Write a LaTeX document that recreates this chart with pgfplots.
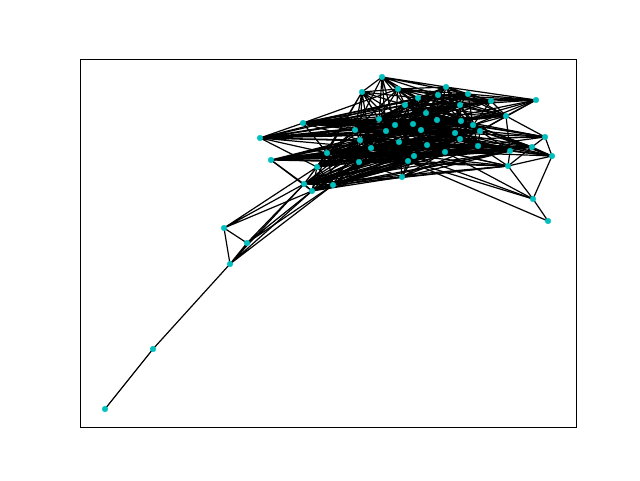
\documentclass[border=0pt]{standalone}
\usepackage{pgfplots}
\pgfplotsset{compat=1.18}
\definecolor{nodec}{rgb}{0,0.75,0.75}
\pgfplotsset{edge/.style={black, line width=1.2pt, line join=round, mark=none}}
\begin{document}
\begin{tikzpicture}
\begin{axis}[at={(0,0)}, anchor=south west, scale only axis,
  width=496pt, height=368pt, xmin=80, xmax=576, ymin=53, ymax=421,
  xtick=\empty, ytick=\empty, axis line style={line width=0.8pt}]
\addplot[edge] coordinates {(105,71)(153,131)};
\addplot[edge] coordinates {(153,131)(230,216)};
\addplot[edge] coordinates {(230,216)(247,237)(230,216)(224,252)(230,216)(304,296)(230,216)(312,289)(230,216)(333,295)};
\addplot[edge] coordinates {(247,237)(224,252)(247,237)(304,296)(247,237)(312,289)(247,237)(333,295)};
\addplot[edge] coordinates {(224,252)(304,296)(224,252)(312,289)(224,252)(317,313)};
\addplot[edge] coordinates {(304,296)(312,289)(304,296)(333,295)(304,296)(317,313)(304,296)(271,320)(304,296)(327,327)(304,296)(359,318)(304,296)(371,332)(304,296)(399,338)(304,296)(414,324)(304,296)(402,303)(304,296)(445,328)(304,296)(478,334)};
\addplot[edge] coordinates {(312,289)(333,295)(312,289)(317,313)(312,289)(271,320)(312,289)(327,327)(312,289)(359,318)(312,289)(360,340)(312,289)(399,338)(312,289)(427,335)(312,289)(408,319)(312,289)(402,303)(312,289)(455,347)(312,289)(510,329)};
\addplot[edge] coordinates {(333,295)(317,313)(333,295)(327,327)(333,295)(359,318)(333,295)(371,332)(333,295)(399,338)(333,295)(414,324)(333,295)(408,319)(333,295)(402,303)(333,295)(445,328)(333,295)(478,334)(333,295)(508,314)};
\addplot[edge] coordinates {(317,313)(327,327)(317,313)(359,318)(317,313)(355,350)(317,313)(360,340)(317,313)(371,332)(317,313)(386,349)(317,313)(399,338)(317,313)(421,350)(317,313)(427,335)(317,313)(460,341)(317,313)(480,349)};
\addplot[edge] coordinates {(271,320)(327,327)(271,320)(371,332)(271,320)(399,338)(271,320)(427,335)(271,320)(414,324)(271,320)(445,328)(271,320)(478,334)(271,320)(510,329)};
\addplot[edge] coordinates {(260,342)(303,357)(260,342)(327,327)(260,342)(355,350)(260,342)(379,361)(260,342)(386,349)(260,342)(395,355)(260,342)(405,375)(260,342)(413,356)(260,342)(437,360)(260,342)(460,375)(260,342)(461,359)(260,342)(473,355)(260,342)(317,313)};
\addplot[edge] coordinates {(303,357)(327,327)(303,357)(355,350)(303,357)(360,340)(303,357)(379,361)(303,357)(395,355)(303,357)(405,375)(303,357)(418,382)(303,357)(426,367)(303,357)(437,360)(303,357)(460,375)(303,357)(473,355)(303,357)(506,364)};
\addplot[edge] coordinates {(327,327)(359,318)(327,327)(355,350)(327,327)(360,340)(327,327)(371,332)(327,327)(386,349)(327,327)(399,338)(327,327)(413,356)(327,327)(427,335)(327,327)(408,319)(327,327)(455,347)(327,327)(460,341)(327,327)(480,349)};
\addplot[edge] coordinates {(359,318)(360,340)(359,318)(371,332)(359,318)(399,338)(359,318)(421,350)(359,318)(427,335)(359,318)(414,324)(359,318)(408,319)(359,318)(402,303)(359,318)(445,328)(359,318)(478,334)(359,318)(510,329)};
\addplot[edge] coordinates {(355,350)(360,340)(355,350)(379,361)(355,350)(386,349)(355,350)(395,355)(355,350)(398,391)(355,350)(405,375)(355,350)(426,367)(355,350)(413,356)(355,350)(437,360)(355,350)(461,359)(355,350)(473,355)};
\addplot[edge] coordinates {(360,340)(371,332)(360,340)(386,349)(360,340)(399,338)(360,340)(413,356)(360,340)(421,350)(360,340)(427,335)(360,340)(455,347)(360,340)(460,341)(360,340)(480,349)};
\addplot[edge] coordinates {(371,332)(386,349)(371,332)(399,338)(371,332)(421,350)(371,332)(427,335)(371,332)(414,324)(371,332)(408,319)(371,332)(445,328)(371,332)(478,334)(371,332)(532,333)};
\addplot[edge] coordinates {(379,361)(386,349)(379,361)(395,355)(379,361)(398,391)(379,361)(405,375)(379,361)(418,382)(379,361)(426,367)(379,361)(437,360)(379,361)(438,385)(379,361)(460,375)(379,361)(461,359)};
\addplot[edge] coordinates {(386,349)(395,355)(386,349)(399,338)(386,349)(413,356)(386,349)(421,350)(386,349)(427,335)(386,349)(437,360)(386,349)(455,347)(386,349)(460,341)(386,349)(473,355)};
\addplot[edge] coordinates {(395,355)(398,391)(395,355)(405,375)(395,355)(418,382)(395,355)(426,367)(395,355)(413,356)(395,355)(437,360)(395,355)(438,385)(395,355)(460,375)(395,355)(461,359)(395,355)(473,355)(395,355)(491,379)};
\addplot[edge] coordinates {(399,338)(421,350)(399,338)(427,335)(399,338)(414,324)(399,338)(408,319)(399,338)(402,303)(399,338)(455,347)(399,338)(460,341)(399,338)(445,328)(399,338)(478,334)};
\addplot[edge] coordinates {(362,388)(382,403)(362,388)(398,391)(362,388)(355,350)(362,388)(360,340)(362,388)(379,361)(362,388)(386,349)(362,388)(395,355)(362,388)(405,375)(362,388)(327,327)(362,388)(317,313)(362,388)(371,332)(362,388)(418,382)(362,388)(413,356)};
\addplot[edge] coordinates {(382,403)(398,391)(382,403)(405,375)(382,403)(418,382)(382,403)(438,385)(382,403)(446,393)(382,403)(468,386)(382,403)(379,361)(382,403)(395,355)(382,403)(355,350)(382,403)(386,349)(382,403)(426,367)};
\addplot[edge] coordinates {(398,391)(405,375)(398,391)(418,382)(398,391)(426,367)(398,391)(438,385)(398,391)(446,393)(398,391)(468,386)(398,391)(460,375)(398,391)(413,356)(398,391)(437,360)};
\addplot[edge] coordinates {(405,375)(418,382)(405,375)(426,367)(405,375)(413,356)(405,375)(437,360)(405,375)(438,385)(405,375)(446,393)(405,375)(460,375)(405,375)(461,359)(405,375)(491,379)(405,375)(506,364)};
\addplot[edge] coordinates {(418,382)(426,367)(418,382)(437,360)(418,382)(438,385)(418,382)(446,393)(418,382)(468,386)(418,382)(460,375)(418,382)(461,359)(418,382)(491,379)(418,382)(536,380)};
\addplot[edge] coordinates {(426,367)(413,356)(426,367)(421,350)(426,367)(437,360)(426,367)(460,375)(426,367)(461,359)(426,367)(473,355)(426,367)(455,347)(426,367)(480,349)(426,367)(506,364)};
\addplot[edge] coordinates {(413,356)(421,350)(413,356)(427,335)(413,356)(437,360)(413,356)(461,359)(413,356)(455,347)(413,356)(473,355)(413,356)(480,349)};
\addplot[edge] coordinates {(421,350)(427,335)(421,350)(414,324)(421,350)(455,347)(421,350)(460,341)(421,350)(480,349)(421,350)(478,334)(421,350)(461,359)};
\addplot[edge] coordinates {(427,335)(414,324)(427,335)(408,319)(427,335)(460,341)(427,335)(445,328)(427,335)(478,334)(427,335)(510,329)(427,335)(532,333)};
\addplot[edge] coordinates {(414,324)(408,319)(414,324)(402,303)(414,324)(445,328)(414,324)(478,334)(414,324)(508,314)(414,324)(533,281)(414,324)(510,329)};
\addplot[edge] coordinates {(408,319)(402,303)(408,319)(445,328)(408,319)(508,314)(408,319)(533,281)(408,319)(548,259)(408,319)(478,334)};
\addplot[edge] coordinates {(402,303)(445,328)(402,303)(508,314)(402,303)(478,334)(402,303)(510,329)};
\addplot[edge] coordinates {(437,360)(438,385)(437,360)(460,375)(437,360)(461,359)(437,360)(455,347)(437,360)(473,355)(437,360)(480,349)(437,360)(506,364)(437,360)(536,380)};
\addplot[edge] coordinates {(438,385)(446,393)(438,385)(468,386)(438,385)(460,375)(438,385)(491,379)(438,385)(536,380)(438,385)(461,359)};
\addplot[edge] coordinates {(446,393)(468,386)(446,393)(460,375)(446,393)(491,379)(446,393)(536,380)(446,393)(506,364)};
\addplot[edge] coordinates {(468,386)(460,375)(468,386)(491,379)(468,386)(536,380)(468,386)(506,364)(468,386)(473,355)};
\addplot[edge] coordinates {(460,375)(461,359)(460,375)(473,355)(460,375)(491,379)(460,375)(506,364)(460,375)(536,380)};
\addplot[edge] coordinates {(461,359)(455,347)(461,359)(473,355)(461,359)(480,349)(461,359)(506,364)(461,359)(545,343)(461,359)(536,380)};
\addplot[edge] coordinates {(455,347)(460,341)(455,347)(473,355)(455,347)(480,349)(455,347)(478,334)(455,347)(545,343)(455,347)(532,333)};
\addplot[edge] coordinates {(460,341)(445,328)(460,341)(480,349)(460,341)(478,334)(460,341)(545,343)(460,341)(532,333)(460,341)(510,329)(460,341)(552,324)};
\addplot[edge] coordinates {(445,328)(478,334)(445,328)(510,329)(445,328)(508,314)(445,328)(533,281)(445,328)(552,324)};
\addplot[edge] coordinates {(473,355)(480,349)(473,355)(506,364)(473,355)(545,343)(473,355)(491,379)};
\addplot[edge] coordinates {(480,349)(478,334)(480,349)(545,343)(480,349)(532,333)(480,349)(552,324)(480,349)(506,364)};
\addplot[edge] coordinates {(478,334)(532,333)(478,334)(552,324)(478,334)(510,329)(478,334)(508,314)};
\addplot[edge] coordinates {(491,379)(506,364)(491,379)(536,380)};
\addplot[edge] coordinates {(506,364)(536,380)(506,364)(545,343)(506,364)(510,329)};
\addplot[edge] coordinates {(545,343)(532,333)(545,343)(552,324)};
\addplot[edge] coordinates {(532,333)(552,324)(532,333)(510,329)(532,333)(508,314)};
\addplot[edge] coordinates {(552,324)(510,329)(552,324)(508,314)(552,324)(533,281)};
\addplot[edge] coordinates {(510,329)(508,314)};
\addplot[edge] coordinates {(508,314)(533,281)};
\addplot[edge] coordinates {(533,281)(548,259)};
% additional edges
\addplot[edge] coordinates {(260,342)(360,340)(260,342)(371,332)(260,342)(399,338)(260,342)(421,350)(260,342)(426,367)(260,342)(455,347)(260,342)(480,349)(260,342)(418,382)};
\addplot[edge] coordinates {(303,357)(386,349)(303,357)(413,356)(303,357)(461,359)(303,357)(421,350)(303,357)(480,349)(303,357)(398,391)(303,357)(438,385)(303,357)(491,379)};
\addplot[edge] coordinates {(271,320)(359,318)(271,320)(360,340)(271,320)(386,349)(271,320)(421,350)(271,320)(408,319)(271,320)(455,347)(271,320)(460,341)(271,320)(532,333)(271,320)(480,349)};
\addplot[edge] coordinates {(304,296)(360,340)(304,296)(386,349)(304,296)(427,335)(304,296)(408,319)(304,296)(455,347)(304,296)(460,341)(304,296)(510,329)(304,296)(508,314)};
\addplot[edge] coordinates {(312,289)(371,332)(312,289)(414,324)(312,289)(445,328)(312,289)(478,334)(312,289)(421,350)};
\addplot[edge] coordinates {(333,295)(360,340)(333,295)(427,335)(333,295)(460,341)(333,295)(510,329)};
\addplot[edge] coordinates {(317,313)(413,356)(317,313)(455,347)(317,313)(478,334)(317,313)(445,328)};
\addplot[edge] coordinates {(327,327)(379,361)(327,327)(395,355)(327,327)(421,350)(327,327)(414,324)(327,327)(445,328)(327,327)(478,334)};
\addplot[edge] coordinates {(359,318)(386,349)(359,318)(455,347)(359,318)(460,341)(359,318)(508,314)(359,318)(532,333)};
\addplot[edge] coordinates {(355,350)(399,338)(355,350)(421,350)(355,350)(460,375)(355,350)(455,347)(355,350)(480,349)(355,350)(418,382)(355,350)(438,385)};
\addplot[edge] coordinates {(360,340)(379,361)(360,340)(395,355)(360,340)(414,324)(360,340)(408,319)(360,340)(445,328)(360,340)(478,334)(360,340)(437,360)(360,340)(461,359)};
\addplot[edge] coordinates {(371,332)(395,355)(371,332)(413,356)(371,332)(455,347)(371,332)(460,341)(371,332)(480,349)(371,332)(510,329)};
\addplot[edge] coordinates {(379,361)(413,356)(379,361)(421,350)(379,361)(473,355)(379,361)(446,393)(379,361)(468,386)(379,361)(491,379)};
\addplot[edge] coordinates {(386,349)(405,375)(386,349)(426,367)(386,349)(460,375)(386,349)(461,359)(386,349)(480,349)(386,349)(478,334)};
\addplot[edge] coordinates {(395,355)(421,350)(395,355)(427,335)(395,355)(455,347)(395,355)(480,349)(395,355)(446,393)(395,355)(468,386)(395,355)(506,364)};
\addplot[edge] coordinates {(399,338)(413,356)(399,338)(473,355)(399,338)(480,349)(399,338)(532,333)(399,338)(510,329)(399,338)(508,314)};
\addplot[edge] coordinates {(398,391)(461,359)(398,391)(473,355)(398,391)(491,379)};
\addplot[edge] coordinates {(405,375)(468,386)(405,375)(455,347)(405,375)(473,355)(405,375)(480,349)};
\addplot[edge] coordinates {(418,382)(413,356)(418,382)(473,355)(418,382)(506,364)};
\addplot[edge] coordinates {(426,367)(438,385)(426,367)(446,393)(426,367)(468,386)(426,367)(460,341)(426,367)(491,379)};
\addplot[edge] coordinates {(413,356)(460,375)(413,356)(460,341)(413,356)(478,334)};
\addplot[edge] coordinates {(421,350)(445,328)(421,350)(473,355)};
\addplot[edge] coordinates {(437,360)(446,393)(437,360)(468,386)(437,360)(460,341)(437,360)(478,334)(437,360)(491,379)(437,360)(545,343)};
\addplot[edge] coordinates {(438,385)(473,355)(438,385)(506,364)};
\addplot[edge] coordinates {(446,393)(473,355)(446,393)(461,359)};
\addplot[edge] coordinates {(460,375)(480,349)(460,375)(455,347)};
\addplot[edge] coordinates {(461,359)(460,341)(461,359)(478,334)(461,359)(532,333)};
\addplot[edge] coordinates {(455,347)(445,328)(455,347)(510,329)};
\addplot[edge] coordinates {(473,355)(478,334)(473,355)(536,380)(473,355)(532,333)};
\addplot[edge] coordinates {(480,349)(510,329)(480,349)(536,380)};
\addplot[edge] coordinates {(478,334)(545,343)};
\addplot[edge] coordinates {(552,324)(455,347)(552,324)(473,355)};
\addplot[only marks, mark=*, mark size=2.8pt, color=nodec, mark options={fill=nodec, draw=nodec}] coordinates {
(105,71)(153,131)(230,216)(247,237)(224,252)(304,296)(312,289)(333,295)(317,313)(271,320)
(260,342)(303,357)(327,327)(359,318)(355,350)(360,340)(371,332)(379,361)(386,349)(395,355)
(399,338)(362,388)(382,403)(398,391)(405,375)(418,382)(426,367)(413,356)(421,350)(427,335)
(414,324)(408,319)(402,303)(437,360)(438,385)(446,393)(468,386)(460,375)(461,359)(455,347)
(460,341)(445,328)(473,355)(480,349)(478,334)(491,379)(506,364)(536,380)(545,343)(532,333)
(552,324)(510,329)(508,314)(533,281)(548,259)};
\end{axis}
\path (-80pt,-53pt) rectangle (560pt,427pt);
\end{tikzpicture}
\end{document}
